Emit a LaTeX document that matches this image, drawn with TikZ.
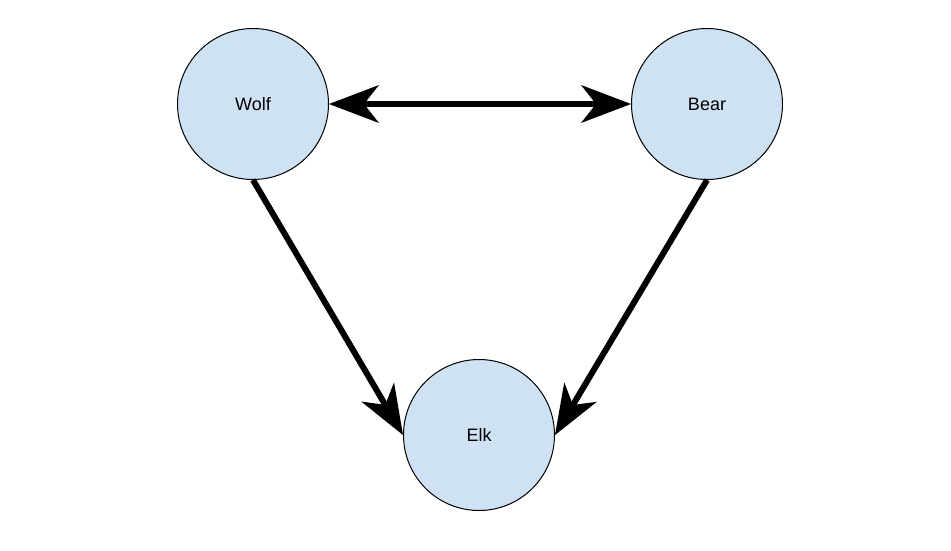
\documentclass[tikz,border=0pt]{standalone}
\usepackage{fontspec}
\setmainfont{Liberation Sans}
\usetikzlibrary{arrows.meta}
\definecolor{nodefill}{HTML}{CFE2F3}
\begin{document}
\begin{tikzpicture}[x=1pt,y=-1pt,
  animal/.style={circle,draw=black,line width=1pt,fill=nodefill,minimum size=151pt,inner sep=0pt,font=\fontsize{18pt}{20pt}\selectfont},
  link/.style={line width=6pt,-{Stealth[length=50pt,width=38pt,inset=15pt,line width=0pt]}},
  biglink/.style={line width=6pt,{Stealth[length=50pt,width=38pt,inset=15pt,line width=0pt]}-{Stealth[length=50pt,width=38pt,inset=15pt,line width=0pt]}}]
\useasboundingbox (0,0) rectangle (951,550);
\fill[white] (0,0) rectangle (951,550);
\node[animal] (wolf) at (253,104) {Wolf};
\node[animal] (bear) at (707,104) {Bear};
\node[animal] (elk) at (479,435) {Elk};
\draw[biglink] (wolf.east) -- (bear.west);
\draw[link] (wolf.south) -- (elk.west);
\draw[link] (bear.south) -- (elk.east);
\end{tikzpicture}
\end{document}
